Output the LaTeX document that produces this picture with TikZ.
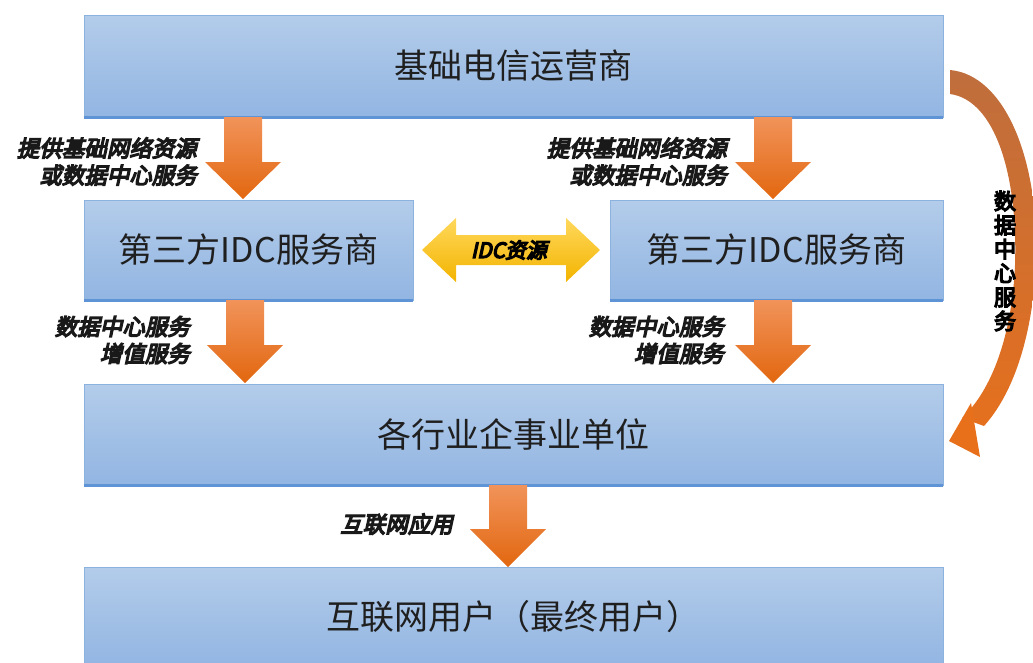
\documentclass[tikz,border=0pt]{standalone}
\usepackage{fontspec}
\setmainfont{Noto Sans CJK SC}
\newfontfamily\lblfont[FakeSlant=0.22,FakeBold=6]{Noto Sans CJK SC}
\newfontfamily\vlblfont[FakeBold=6]{Noto Sans CJK SC}
\definecolor{boxtop}{HTML}{B3CCEA}
\definecolor{boxbot}{HTML}{92B5E2}
\definecolor{boxedge}{HTML}{8CB2E0}
\definecolor{boxline}{HTML}{5E93D5}
\definecolor{ortop}{HTML}{F1935A}
\definecolor{orbot}{HTML}{E2670F}
\definecolor{brtop}{HTML}{BE6E3E}
\definecolor{brbot}{HTML}{E8701B}
\definecolor{yetop}{HTML}{FFD85C}
\definecolor{yebot}{HTML}{F3B400}
\newcommand\orarrow[4]{% x, ytop, yheadstart, ytip
  \shade[top color=ortop, bottom color=orbot]
    (#1-19,#2) -- (#1+19,#2) -- (#1+19,#3) -- (#1+38,#3) -- (#1,#4)
    -- (#1-38,#3) -- (#1-19,#3) -- cycle;}
\begin{document}
\begin{tikzpicture}[x=1pt,y=-1pt,
  box/.style={draw=boxedge, line width=0.8pt, top color=boxtop, bottom color=boxbot,
    font=\fontsize{34}{36}\selectfont, text=black!88, inner sep=0},
  lbl/.style={font=\lblfont\fontsize{22.5}{27}\selectfont, align=right, inner sep=0, anchor=east, text=black!90},
  bline/.style={draw=boxline, line width=2.5pt}]
\useasboundingbox (0,0) rectangle (1033,662);
% boxes
\node[box, minimum width=859, minimum height=102] (op) at (513.5,66) {基础电信运营商};
\node[box, minimum width=329, minimum height=100] (idcl) at (248.5,250) {第三方IDC服务商};
\node[box, minimum width=333, minimum height=100] (idcr) at (776.5,250) {第三方IDC服务商};
\node[box, minimum width=859, minimum height=101] (ent) at (513.5,434.5) {各行业企事业单位};
\node[box, minimum width=859, minimum height=100] (usr) at (513.5,617) {互联网用户（最终用户）};
\foreach \n in {op,idcl,idcr,ent}{\draw[bline] (\n.south west) -- (\n.south east);}
% orange block arrows
\orarrow{243}{117}{162}{199}
\orarrow{773}{117}{162}{199}
\orarrow{245}{300}{345}{383}
\orarrow{773}{300}{345}{383}
\orarrow{508}{485}{529}{567}
% labels
\node[lbl] (l1) at (197,161.5) {提供基础网络资源\\或数据中心服务};
\node[lbl] (l2) at (727,161.5) {提供基础网络资源\\或数据中心服务};
\node[lbl] (l3) at (190,340) {数据中心服务\\增值服务};
\node[lbl] (l4) at (724,340) {数据中心服务\\增值服务};
\node[lbl] (l5) at (453,524) {互联网应用};
% yellow double arrow
\shade[top color=yetop, bottom color=yebot]
  (422,250) -- (456,218) -- (456,235) -- (566,235) -- (566,218) -- (600,250)
  -- (566,282) -- (566,265) -- (456,265) -- (456,282) -- cycle;
\node[font=\lblfont\fontsize{21}{22}\selectfont, inner sep=0] (idcres) at (509,250) {IDC资源};
% curved arrow
\begin{scope}
\clip (950,70) .. controls (1005,75) and (1040,160) .. (1036,265)
  .. controls (1032,340) and (1012,395) .. (984,426) -- (962,418)
  .. controls (992,390) and (1012,335) .. (1015,265)
  .. controls (1018,175) and (995,100) .. (950,94) -- cycle;
\shade[top color=brtop, bottom color=brbot] (940,60) rectangle (1040,460);
\end{scope}
\fill[brbot] (949,441) -- (971,403) -- (980,457) -- cycle;
\node[font=\vlblfont\fontsize{22}{24}\selectfont, align=center, inner sep=0] (vl) at (1005,261) {数\\据\\中\\心\\服\\务};
\end{tikzpicture}
\end{document}
